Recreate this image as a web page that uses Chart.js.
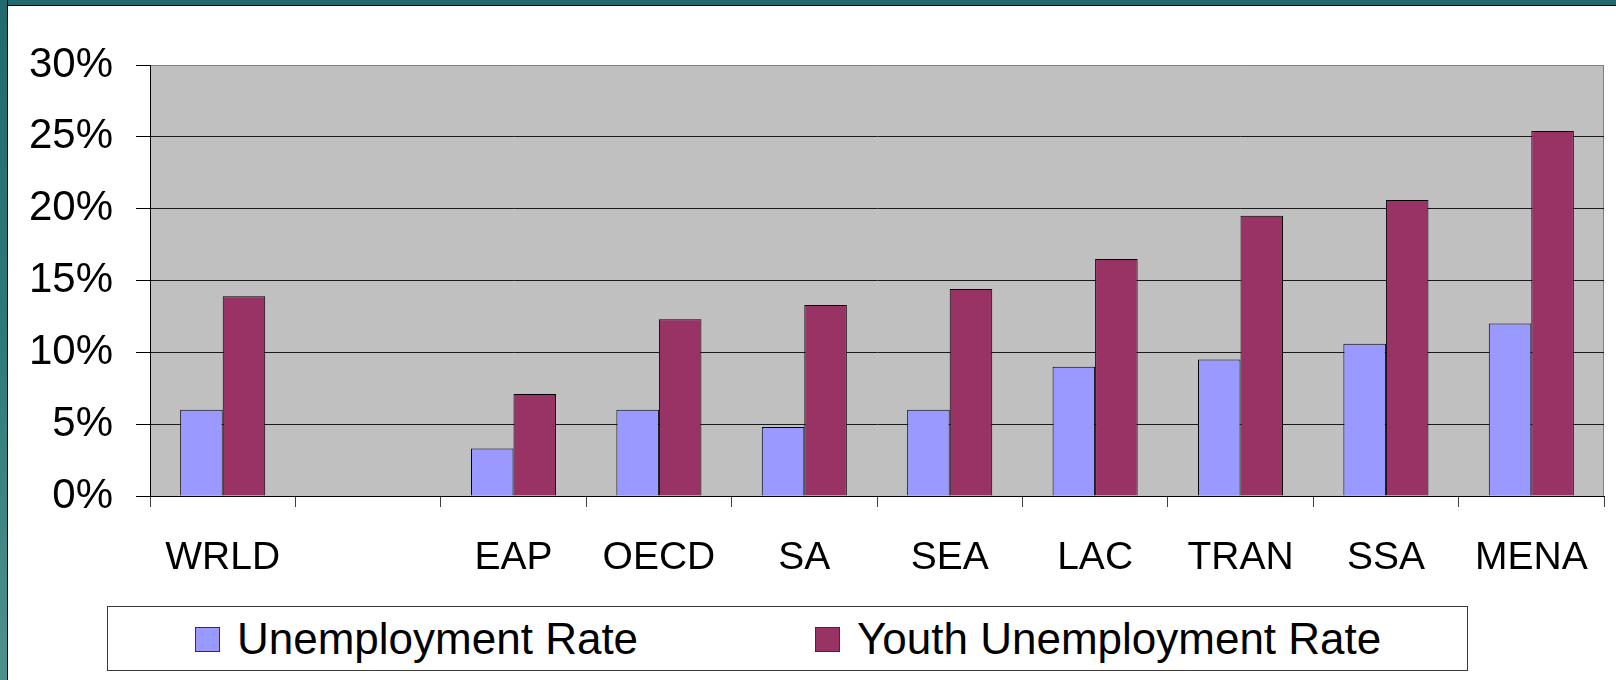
<!DOCTYPE html>
<html>
<head>
<meta charset="utf-8">
<script src="https://cdn.jsdelivr.net/npm/chart.js@4.4.1/dist/chart.umd.min.js"></script>
<style>
  html, body { margin: 0; padding: 0; background: #ffffff; overflow: hidden; }
  #wrap { position: relative; width: 1616px; height: 680px; }
  #c { position: absolute; left: 0; top: 0; }
  #frameLeft { position: absolute; left: 0; top: 0; width: 7px; height: 680px;
    background: linear-gradient(to bottom, #206a6d, #2d7a7b 50%, #4d918e);
    border-right: 1px solid #000; }
  #frameTop { position: absolute; left: 0; top: 0; width: 1616px; height: 5px;
    background: #206a6d; border-bottom: 1px solid #000; }
  #legend { position: absolute; left: 107px; top: 606px; width: 1359px; height: 63px;
    border: 1px solid #3a3a3a; background: #fff;
    font-family: "Liberation Sans", Arial, sans-serif; font-size: 44px; color: #000; }
  .sw { position: absolute; top: 20px; width: 25px; height: 25px; border: 1px solid #333; box-sizing: border-box; }
  .lt { position: absolute; top: 10px; line-height: 44px; white-space: nowrap; }
</style>
</head>
<body>
<div id="wrap">
  <canvas id="c" width="1616" height="680"></canvas>
  <div id="frameTop"></div>
  <div id="frameLeft"></div>
  <div id="legend"></div>
</div>
<script>
const categories = ['WRLD', '', 'EAP', 'OECD', 'SA', 'SEA', 'LAC', 'TRAN', 'SSA', 'MENA'];
const unemploymentRate = [6.0, null, 3.3, 6.0, 4.8, 6.0, 9.0, 9.5, 10.6, 12.0];
const youthUnemploymentRate = [13.9, null, 7.1, 12.3, 13.3, 14.4, 16.5, 19.5, 20.6, 25.4];
const seriesLabels = ['Unemployment Rate', 'Youth Unemployment Rate'];
const seriesColors = ['#9999ff', '#993366'];
const yMin = 0, yMax = 30, yStep = 5;

const plotBg = {
  id: 'plotBg',
  beforeDraw(chart) {
    const { ctx, chartArea: a } = chart;
    ctx.save();
    ctx.fillStyle = '#c0c0c0';
    ctx.fillRect(a.left, a.top, a.right - a.left, a.bottom - a.top);
    ctx.strokeStyle = '#808080';
    ctx.lineWidth = 1;
    ctx.beginPath();
    ctx.moveTo(Math.round(a.right) - 0.5, a.top);
    ctx.lineTo(Math.round(a.right) - 0.5, a.bottom);
    ctx.stroke();
    ctx.restore();
  }
};

const chart = new Chart(document.getElementById('c'), {
  type: 'bar',
  data: {
    labels: categories,
    datasets: [
      { label: seriesLabels[0], data: unemploymentRate, backgroundColor: seriesColors[0], borderColor: '#000', borderWidth: 1 },
      { label: seriesLabels[1], data: youthUnemploymentRate, backgroundColor: seriesColors[1], borderColor: '#000', borderWidth: 1 }
    ]
  },
  options: {
    responsive: false,
    animation: false,
    events: [],
    layout: { padding: { top: 65, right: 7, left: 0, bottom: 0 } },
    datasets: { bar: { categoryPercentage: 0.585, barPercentage: 1.0 } },
    plugins: { legend: { display: false }, tooltip: { enabled: false } },
    scales: {
      x: {
        grid: { offset: true, drawOnChartArea: false, drawTicks: true, tickLength: 11, color: '#404040', lineWidth: 1 },
        border: { color: '#000', width: 1 },
        ticks: { font: { family: 'Liberation Sans', size: 39 }, color: '#000', padding: 28, maxRotation: 0, autoSkip: false },
        afterFit(s) { s.height = 184; }
      },
      y: {
        min: yMin, max: yMax,
        ticks: { stepSize: yStep, callback: v => v + '%', font: { family: 'Liberation Sans', size: 42 }, color: '#000', padding: 23 },
        grid: { color: c => (c.tick && c.tick.value === yMax) ? '#808080' : '#1a1a1a', tickLength: 14, tickColor: '#000', lineWidth: 1 },
        border: { color: '#000', width: 1 },
        afterFit(s) { s.width = 150; }
      }
    }
  },
  plugins: [plotBg]
});

// HTML legend built from the datasets
const legend = document.getElementById('legend');
const itemLeft = [87, 707];
chart.data.datasets.forEach((ds, i) => {
  const sw = document.createElement('div');
  sw.className = 'sw';
  sw.style.left = itemLeft[i] + 'px';
  sw.style.background = ds.backgroundColor;
  const t = document.createElement('span');
  t.className = 'lt';
  t.style.left = (itemLeft[i] + 42) + 'px';
  t.textContent = ds.label;
  legend.appendChild(sw);
  legend.appendChild(t);
});
</script>
</body>
</html>
